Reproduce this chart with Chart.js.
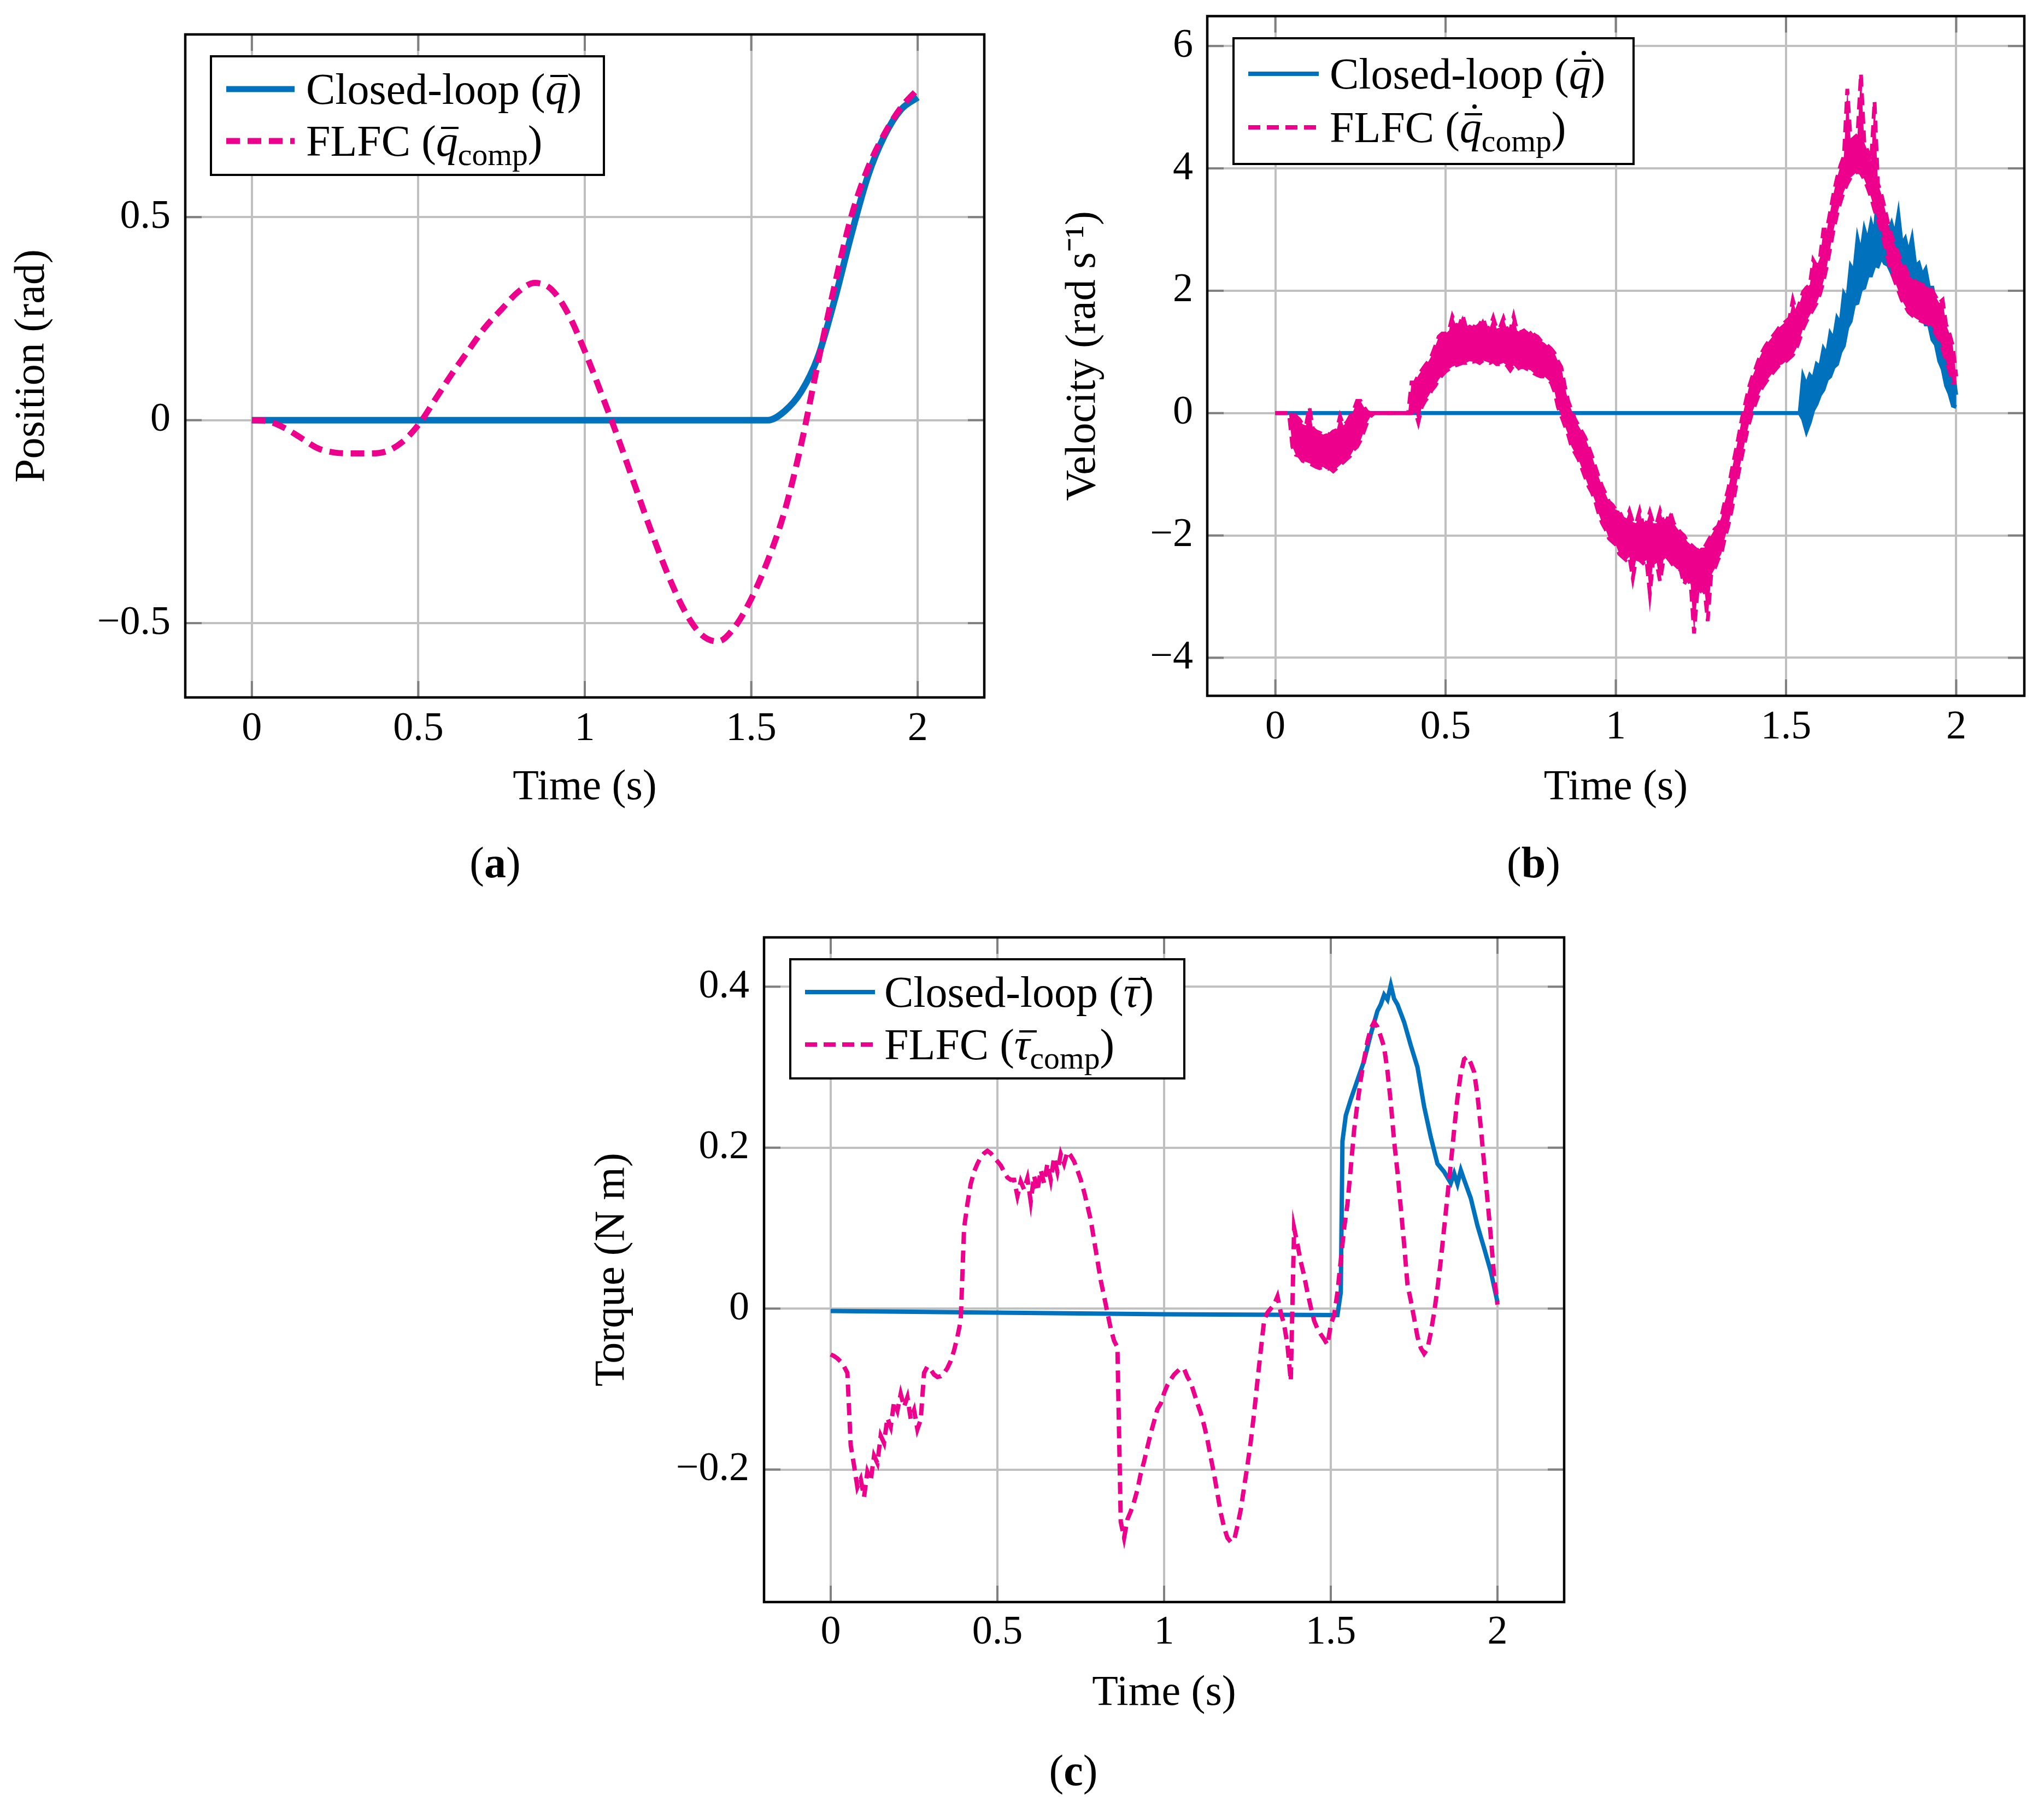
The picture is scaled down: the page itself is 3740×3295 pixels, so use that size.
<!DOCTYPE html>
<html>
<head>
<meta charset="utf-8">
<script src="https://cdn.jsdelivr.net/npm/chart.js@4.4.1/dist/chart.umd.min.js"></script>
<style>
  html, body { margin: 0; padding: 0; background: #fff; }
  body { width: 3740px; height: 3295px; position: relative; overflow: hidden; font-family: "Liberation Serif", serif; color: #000; }
  canvas { position: absolute; }
  .legend { position: absolute; background: #fff; border: 4.5px solid #000; box-sizing: border-box; }
  .row { position: absolute; white-space: nowrap; font-size: 80px; line-height: 100px; }
  .sample { position: absolute; overflow: visible; }
  .caption { position: absolute; font-size: 80px; line-height: 100px; transform: translate(-50%, -50%); white-space: nowrap; }
  sub { font-size: 0.72em; vertical-align: -0.3em; line-height: 0; }
  .acc { position: relative; display: inline-block; font-style: italic; }
  .acc .bar { position: absolute; left: 0.12em; width: 0.4em; top: 0.3em; border-top: 0.05em solid #000; }
  .acc .dot { position: absolute; left: 0.29em; top: 0.1em; width: 0.1em; height: 0.1em; border-radius: 50%; background: #000; }
</style>
</head>
<body>
<canvas id="chartA" width="1850" height="1500" style="left:0;top:0"></canvas>
<canvas id="chartB" width="1870" height="1500" style="left:1870px;top:0"></canvas>
<canvas id="chartC" width="1900" height="1500" style="left:1000px;top:1650px"></canvas>

<!-- legend (a) -->
<div class="legend" style="left:384px;top:101px;width:723px;height:221px"></div>
<svg class="sample" style="left:414px;top:153px" width="125" height="20"><line x1="0" y1="10" x2="125" y2="10" stroke="#0072bd" stroke-width="11"/></svg>
<svg class="sample" style="left:414px;top:248px" width="125" height="20"><line x1="0" y1="10" x2="125" y2="10" stroke="#ec008c" stroke-width="11" stroke-dasharray="25 14"/></svg>
<div class="row" style="left:560px;top:113px">Closed-loop (<span class="acc">q<span class="bar"></span></span>)</div>
<div class="row" style="left:560px;top:208px">FLFC (<span class="acc">q<span class="bar"></span></span><sub>comp</sub>)</div>

<!-- legend (b) -->
<div class="legend" style="left:2255px;top:68px;width:736px;height:234px"></div>
<svg class="sample" style="left:2284px;top:125px" width="129" height="20"><line x1="0" y1="10" x2="129" y2="10" stroke="#0072bd" stroke-width="8"/></svg>
<svg class="sample" style="left:2284px;top:223px" width="129" height="20"><line x1="0" y1="10" x2="129" y2="10" stroke="#ec008c" stroke-width="8" stroke-dasharray="22 12"/></svg>
<div class="row" style="left:2433px;top:85px">Closed-loop (<span class="acc">q<span class="bar"></span><span class="dot"></span></span>)</div>
<div class="row" style="left:2433px;top:183px">FLFC (<span class="acc">q<span class="bar"></span><span class="dot"></span></span><sub>comp</sub>)</div>

<!-- legend (c) -->
<div class="legend" style="left:1444px;top:1753px;width:725px;height:222px"></div>
<svg class="sample" style="left:1473px;top:1805px" width="128" height="20"><line x1="0" y1="10" x2="128" y2="10" stroke="#0072bd" stroke-width="8"/></svg>
<svg class="sample" style="left:1473px;top:1901px" width="128" height="20"><line x1="0" y1="10" x2="128" y2="10" stroke="#ec008c" stroke-width="8" stroke-dasharray="22 12"/></svg>
<div class="row" style="left:1618px;top:1765px">Closed-loop (<span class="acc">&#964;<span class="bar"></span></span>)</div>
<div class="row" style="left:1618px;top:1861px">FLFC (<span class="acc">&#964;<span class="bar"></span></span><sub>comp</sub>)</div>

<div class="caption" style="left:906px;top:1578px">(<b>a</b>)</div>
<div class="caption" style="left:2806px;top:1578px">(<b>b</b>)</div>
<div class="caption" style="left:1964px;top:3239px">(<b>c</b>)</div>

<script>
// sampling grid helper (x positions only)
function grid(a, b, step) {
  const out = [];
  const n = Math.round((b - a) / step);
  for (let i = 0; i <= n; i++) out.push(+(a + i * step).toFixed(3));
  return out;
}

// ---- tick labels ----
const timeTicks = [0, 0.5, 1, 1.5, 2];
const posTicks = [-0.5, 0, 0.5];
const velTicks = [-4, -2, 0, 2, 4, 6];
const torqueTicks = [-0.2, 0, 0.2, 0.4];

// ---- (a) position ----
const posTime = grid(0, 2, 0.05);
const posFlfc = [0, -0.003, -0.02, -0.045, -0.07, -0.08, -0.082, -0.082, -0.078, -0.055,
  -0.012, 0.05, 0.113, 0.171, 0.228, 0.273, 0.316, 0.338, 0.322, 0.262,
  0.17, 0.065, -0.044, -0.16, -0.275, -0.381, -0.47, -0.528, -0.545, -0.51,
  -0.44, -0.345, -0.225, -0.06, 0.14, 0.33, 0.5, 0.62, 0.705, 0.77, 0.815];
const posClosedTime = [0, 1.5, 1.55, 1.6, 1.65, 1.7, 1.75, 1.8, 1.85, 1.9, 1.95, 2.0];
const posClosed = [0, 0, 0, 0.022, 0.07, 0.155, 0.295, 0.455, 0.6, 0.7, 0.765, 0.795];

// ---- (b) velocity: noisy signals read as upper / lower edge of the band ----
const velTime = grid(0, 2, 0.01);
const velFlfcHigh = [
  0, 0, 0, 0, 0, 0.0, -0.05, -0.1, -0.18, -0.2,
  0.1, -0.25, -0.3, -0.32, -0.35, -0.33, -0.35, -0.3, -0.28, -0.05,
  -0.2, -0.15, -0.05, 0.05, 0.2, 0.2, 0.1, 0.02, 0, 0,
  0, 0, 0, 0, 0, 0, 0, 0, 0, 0,
  0.5, 0.5, 0.62, 0.7, 0.78, 0.85, 0.95, 1.1, 1.25, 1.3,
  1.3, 1.35, 1.58, 1.45, 1.42, 1.6, 1.4, 1.45, 1.42, 1.4,
  1.45, 1.55, 1.38, 1.4, 1.56, 1.38, 1.4, 1.55, 1.38, 1.35,
  1.58, 1.35, 1.32, 1.35, 1.3, 1.35, 1.28, 1.25, 1.18, 1.15,
  1.1, 1.05, 0.98, 0.85, 0.75, 0.45, 0.2, 0.05, -0.1, -0.2,
  -0.3, -0.4, -0.55, -0.7, -0.88, -1.05, -1.2, -1.32, -1.45, -1.5,
  -1.58, -1.6, -1.72, -1.75, -1.6, -1.78, -1.8, -1.6, -1.82, -1.8,
  -1.62, -1.8, -1.8, -1.6, -1.78, -1.75, -1.62, -1.8, -1.88, -1.95,
  -2.0, -2.1, -2.15, -2.2, -2.25, -2.2, -2.2, -2.1, -2.0, -1.9,
  -1.85, -1.7, -1.45, -1.25, -0.95, -0.68, -0.4, -0.1, 0.15, 0.4,
  0.58, 0.72, 0.88, 1.0, 1.1, 1.18, 1.25, 1.32, 1.4, 1.45,
  1.5, 1.55, 1.85, 1.65, 1.8, 1.98, 2.05, 2.1, 2.5, 2.4,
  2.55, 3.0, 3.0, 3.3, 3.6, 3.85, 4.05, 4.2, 5.3, 4.45,
  4.5, 4.55, 5.55, 4.42, 4.28, 4.12, 5.1, 3.75, 3.58, 3.35,
  3.1, 2.9, 2.75, 2.6, 2.45, 2.38, 2.25, 2.2, 2.15, 2.12,
  2.1, 2.08, 2.05, 2.0, 1.9, 1.8, 1.85, 1.45, 1.3, 1.1,
  0.6];
const velFlfcLow = [
  0, 0, 0, 0, 0, -0.55, -0.68, -0.7, -0.78, -0.8,
  -0.82, -0.85, -0.88, -0.9, -0.88, -0.92, -0.9, -0.95, -0.9, -0.85,
  -0.8, -0.75, -0.7, -0.6, -0.55, -0.45, -0.3, -0.15, -0.05, 0,
  0, 0, 0, 0, 0, 0, 0, 0, 0, 0,
  0.0, 0.05, -0.15, 0.1, 0.2, 0.28, 0.38, 0.45, 0.55, 0.62,
  0.68, 0.72, 0.76, 0.78, 0.8, 0.82, 0.82, 0.85, 0.84, 0.85,
  0.82, 0.86, 0.84, 0.82, 0.85, 0.8, 0.8, 0.82, 0.78, 0.7,
  0.78, 0.72, 0.75, 0.75, 0.72, 0.7, 0.65, 0.62, 0.6, 0.6,
  0.55, 0.5, 0.35, 0.1, -0.05, -0.2, -0.35, -0.55, -0.65, -0.75,
  -0.9, -1.05, -1.2, -1.3, -1.45, -1.65, -1.8, -1.9, -2.05, -2.1,
  -2.15, -2.3, -2.35, -2.4, -2.35, -2.7, -2.38, -2.4, -2.45, -2.4,
  -2.95, -2.4, -2.45, -2.75, -2.4, -2.35, -2.42, -2.5, -2.55, -2.55,
  -2.8, -2.7, -2.8, -3.6, -2.9, -2.95, -2.85, -3.4, -2.65, -2.55,
  -2.4, -2.3, -2.05, -1.85, -1.6, -1.3, -1.0, -0.72, -0.45, -0.2,
  0.0, 0.15, 0.3, 0.42, 0.5, 0.58, 0.65, 0.72, 0.78, 0.8,
  0.85, 0.9, 0.95, 1.05, 1.2, 1.38, 1.5, 1.6, 1.7, 1.8,
  1.95, 2.15, 2.4, 2.7, 3.0, 3.25, 3.45, 3.62, 3.75, 3.85,
  3.9, 3.95, 3.92, 3.82, 3.68, 3.52, 3.32, 3.15, 2.98, 2.75,
  2.5, 2.3, 2.15, 2.0, 1.85, 1.75, 1.65, 1.6, 1.55, 1.52,
  1.5, 1.48, 1.45, 1.4, 1.3, 1.2, 1.05, 0.85, 0.7, 0.5,
  0.5];
const velClosedTime = [0].concat(grid(1.54, 2, 0.01));
const velClosedHigh = [0, 0,
  0.6, 0.45, 0.62, 0.55, 0.8,
  0.75, 1.05, 0.95, 1.3, 1.2, 1.55, 1.45, 1.95, 1.85, 2.4,
  2.3, 2.85, 2.6, 3.0, 2.8, 3.1, 2.9, 3.6, 3.05, 3.2,
  2.95, 3.1, 2.9, 3.25, 2.75, 2.85, 2.6, 2.85, 2.4, 2.45,
  2.25, 2.35, 2.05, 2.05, 1.75, 1.7, 1.35, 1.2, 0.85, 0.7,
  0.3];
const velClosedLow = [0, 0,
  -0.1, -0.3, -0.15, 0.05, 0.15,
  0.3, 0.38, 0.55, 0.6, 0.75, 0.8, 1.0, 1.1, 1.4, 1.5,
  1.78, 1.8, 2.02, 2.05, 2.25, 2.25, 2.42, 2.4, 2.55, 2.45,
  2.42, 2.3, 2.35, 2.2, 2.2, 2.0, 2.0, 1.8, 1.82, 1.65,
  1.65, 1.45, 1.45, 1.2, 1.12, 0.85, 0.72, 0.45, 0.32, 0.12,
  0.1];

// ---- (c) torque ----
const torqueTime = grid(0, 2, 0.01);
const torqueFlfc = [
  -0.057, -0.059, -0.062, -0.066, -0.072, -0.08, -0.17, -0.195, -0.222, -0.212,
  -0.234, -0.203, -0.214, -0.183, -0.192, -0.158, -0.167, -0.136, -0.147, -0.116,
  -0.127, -0.106, -0.122, -0.11, -0.137, -0.126, -0.15, -0.138, -0.08, -0.072,
  -0.076, -0.082, -0.085, -0.084, -0.08, -0.074, -0.065, -0.052, -0.035, -0.015,
  0.1, 0.13, 0.155, 0.17, 0.18, 0.188, 0.193, 0.196, 0.193, 0.188,
  0.183, 0.178, 0.17, 0.163, 0.16, 0.16, 0.14, 0.158, 0.148, 0.162,
  0.133, 0.165, 0.146, 0.172, 0.156, 0.18, 0.16, 0.188, 0.17, 0.192,
  0.18, 0.195, 0.19, 0.183, 0.172, 0.16, 0.145, 0.128, 0.11, 0.085,
  0.06, 0.035, 0.015, -0.005, -0.025, -0.04, -0.048, -0.265, -0.285, -0.262,
  -0.252, -0.24, -0.225, -0.205, -0.19, -0.172, -0.155, -0.14, -0.125, -0.118,
  -0.105, -0.095, -0.088, -0.082, -0.078, -0.074, -0.075, -0.085, -0.092, -0.105,
  -0.118, -0.13, -0.145, -0.163, -0.185, -0.206, -0.23, -0.254, -0.272, -0.285,
  -0.29, -0.288, -0.27, -0.25, -0.222, -0.195, -0.165, -0.13, -0.09, -0.052,
  -0.015, -0.005, 0.0, 0.005, 0.015, -0.005, -0.02, -0.045, -0.09, 0.1,
  0.08, 0.058, 0.041, 0.02, 0.002, -0.015, -0.025, -0.032, -0.038, -0.045,
  -0.02, -0.008, 0.02, 0.06, 0.1, 0.13, 0.175, 0.222, 0.255, 0.285,
  0.31, 0.332, 0.348, 0.356, 0.35, 0.338, 0.325, 0.295, 0.256, 0.208,
  0.17, 0.125, 0.08, 0.03, 0.01, -0.012, -0.035, -0.049, -0.056, -0.05,
  -0.03, -0.005, 0.025, 0.06, 0.1, 0.14, 0.18, 0.222, 0.262, 0.292,
  0.31, 0.313, 0.305, 0.294, 0.265, 0.225, 0.18, 0.135, 0.09, 0.04,
  0.005];
const torqueClosedTime = [0, 0.5, 1.0, 1.52, 1.53, 1.535, 1.545, 1.56, 1.58, 1.6, 1.62, 1.64, 1.65, 1.66,
  1.67, 1.68, 1.69, 1.7, 1.72, 1.74, 1.76, 1.78, 1.8, 1.82, 1.84, 1.86, 1.87, 1.88, 1.89, 1.9,
  1.92, 1.94, 1.96, 1.98, 2.0];
const torqueClosed = [-0.003, -0.005, -0.007, -0.008, 0.02, 0.208, 0.24, 0.26, 0.284, 0.308, 0.341, 0.37, 0.378, 0.39,
  0.384, 0.402, 0.385, 0.378, 0.356, 0.327, 0.3, 0.251, 0.213, 0.18, 0.17, 0.156, 0.168, 0.155, 0.172, 0.16,
  0.137, 0.103, 0.075, 0.046, 0.008];

const BLUE = '#0072bd';
const PINK = '#ec008c';
const FONT = 'Liberation Serif';

function pts(ts, vs) { return ts.map((t, i) => ({ x: t, y: vs[i] })); }
function fmt(v) { return String(v).replace('-', '\u2212'); }

// black frame + small inward grey ticks like pgfplots
const framePlugin = {
  id: 'frame',
  afterDraw(chart) {
    const { ctx, chartArea: a, scales } = chart;
    ctx.save();
    ctx.strokeStyle = '#808080';
    ctx.lineWidth = 4;
    const seg = (x1, y1, x2, y2) => { ctx.beginPath(); ctx.moveTo(x1, y1); ctx.lineTo(x2, y2); ctx.stroke(); };
    scales.x.ticks.forEach(t => {
      const px = scales.x.getPixelForValue(t.value);
      seg(px, a.bottom, px, a.bottom - 30);
      seg(px, a.top, px, a.top + 30);
    });
    scales.y.ticks.forEach(t => {
      const py = scales.y.getPixelForValue(t.value);
      seg(a.left, py, a.left + 30, py);
      seg(a.right, py, a.right - 30, py);
    });
    ctx.strokeStyle = '#000';
    ctx.lineWidth = 4.5;
    ctx.strokeRect(a.left, a.top, a.right - a.left, a.bottom - a.top);
    ctx.restore();
  }
};

function makeChart(id, c) {
  return new Chart(document.getElementById(id), {
    type: 'line',
    data: { datasets: c.datasets },
    options: {
      responsive: false,
      animation: false,
      devicePixelRatio: 1,
      layout: { padding: { top: c.padTop, right: c.padRight, left: 0, bottom: 0 } },
      plugins: { legend: { display: false }, tooltip: { enabled: false } },
      elements: { point: { radius: 0 } },
      scales: {
        x: {
          type: 'linear', min: -0.2, max: 2.2,
          afterBuildTicks: s => { s.ticks = timeTicks.map(v => ({ value: v })); },
          afterFit: s => { s.height = c.xHeight; s.paddingLeft = 0; s.paddingRight = 0; },
          grid: { color: '#c0c0c0', lineWidth: 4, drawTicks: false },
          border: { display: false },
          ticks: { autoSkip: false, maxRotation: 0, padding: c.xTickPad, color: '#000',
            font: { family: FONT, size: 74 }, callback: v => fmt(v) },
          title: { display: true, text: 'Time (s)', color: '#000',
            font: { family: FONT, size: 78 }, padding: { top: 0, bottom: c.xTitlePad } }
        },
        y: {
          type: 'linear', min: c.yMin, max: c.yMax,
          afterBuildTicks: s => { s.ticks = c.yTicks.map(v => ({ value: v })); },
          afterFit: s => { s.width = c.yWidth; s.paddingTop = 0; s.paddingBottom = 0; },
          grid: { color: '#c0c0c0', lineWidth: 4, drawTicks: false },
          border: { display: false },
          ticks: { autoSkip: false, padding: c.yTickPad, color: '#000',
            font: { family: FONT, size: 74 }, callback: v => fmt(v) },
          title: { display: true, text: c.yTitle, color: '#000',
            font: { family: FONT, size: 78 }, padding: { top: c.yTitlePad, bottom: 0 } }
        }
      }
    },
    plugins: [framePlugin]
  });
}

makeChart('chartA', {
  padTop: 63, padRight: 49, xHeight: 224, yWidth: 339,
  xTickPad: 14, xTitlePad: 12, yTickPad: 27, yTitlePad: 13,
  yMin: -0.683, yMax: 0.95, yTicks: posTicks, yTitle: 'Position (rad)',
  datasets: [
    { label: 'Closed-loop', data: pts(posClosedTime, posClosed), borderColor: BLUE, borderWidth: 12,
      cubicInterpolationMode: 'monotone', order: 1 },
    { label: 'FLFC', data: pts(posTime, posFlfc), borderColor: PINK, borderWidth: 11, borderDash: [25, 14],
      cubicInterpolationMode: 'monotone', order: 0 }
  ]
});

makeChart('chartB', {
  padTop: 29.5, padRight: 36, xHeight: 227, yWidth: 339,
  xTickPad: 14, xTitlePad: 12, yTickPad: 26, yTitlePad: 66,
  yMin: -4.621, yMax: 6.489, yTicks: velTicks, yTitle: 'Velocity (rad s\u207B\u00B9)',
  datasets: [
    { label: 'Closed-loop', data: pts(velClosedTime, velClosedHigh), borderColor: BLUE, borderWidth: 7,
      tension: 0, fill: false, order: 2 },
    { label: 'Closed-loop band', data: pts(velClosedTime, velClosedLow), borderColor: BLUE, borderWidth: 7,
      backgroundColor: BLUE, tension: 0, fill: '-1', order: 2 },
    { label: 'FLFC', data: pts(velTime, velFlfcHigh), borderColor: PINK, borderWidth: 7, borderDash: [22, 12],
      tension: 0, fill: false, order: 1 },
    { label: 'FLFC band', data: pts(velTime, velFlfcLow), borderColor: PINK, borderWidth: 7, borderDash: [22, 12],
      backgroundColor: PINK, tension: 0, fill: '-1', order: 1 }
  ]
});

makeChart('chartC', {
  padTop: 65, padRight: 38, xHeight: 219, yWidth: 398,
  xTickPad: 12, xTitlePad: 5, yTickPad: 27, yTitlePad: 74,
  yMin: -0.3647, yMax: 0.4613, yTicks: torqueTicks, yTitle: 'Torque (N m)',
  datasets: [
    { label: 'Closed-loop', data: pts(torqueClosedTime, torqueClosed), borderColor: BLUE, borderWidth: 8,
      tension: 0, order: 1 },
    { label: 'FLFC', data: pts(torqueTime, torqueFlfc), borderColor: PINK, borderWidth: 8, borderDash: [22, 12],
      tension: 0, order: 0 }
  ]
});
</script>
</body>
</html>
